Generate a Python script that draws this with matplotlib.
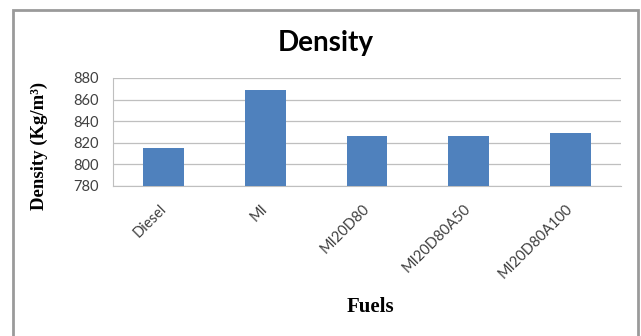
import matplotlib
matplotlib.use("Agg")
import matplotlib.pyplot as plt
from matplotlib.patches import Rectangle

fuels = ["Diesel", "MI", "MI20D80", "MI20D80A50", "MI20D80A100"]
density = [815, 869, 826, 826, 829]
y_ticks = [780, 800, 820, 840, 860, 880]

fig = plt.figure(figsize=(6.41, 3.36), dpi=100)
fig.patch.set_facecolor("white")

# grey border round the chart area (bottom edge falls off the image)
fig.patches.append(Rectangle((13 / 641, -0.05), 625 / 641, 1.05 - 10 / 336,
                             transform=fig.transFigure, fill=False,
                             edgecolor="#9a9a9a", linewidth=2))

ax = fig.add_axes([113 / 641, 150 / 336, 508 / 641, 108 / 336])
x = range(len(fuels))
ax.bar(x, density, width=0.4, color="#4F81BD", zorder=3)

ax.set_xlim(-0.5, len(fuels) - 0.5)
ax.set_ylim(780, 880)
ax.set_yticks(y_ticks)
ax.set_yticklabels([str(v) for v in y_ticks], fontsize=10.5, color="#404040",
                   family="Lato")
ax.set_xticks(list(x))
ax.set_xticklabels(fuels, rotation=45, ha="right", va="center",
                   rotation_mode="anchor", fontsize=10.5, color="#404040",
                   family="Lato")
ax.tick_params(axis="x", length=0, pad=15)
ax.tick_params(axis="y", length=0, pad=10)

ax.grid(axis="y", color="#bfbfbf", linewidth=0.9, zorder=0)
for s in ["top", "right"]:
    ax.spines[s].set_visible(False)
ax.spines["left"].set_color("#bfbfbf")
ax.spines["bottom"].set_color("#bfbfbf")

fig.text(326 / 641, 1 - 43 / 336, "Density", ha="center", va="center",
         fontsize=20, fontweight="bold", family="Lato")
fig.text(370 / 641, 1 - 307 / 336, "Fuels", ha="center", va="center",
         fontsize=15, fontweight="bold", family="Liberation Serif")
fig.text(39 / 641, 1 - 146 / 336, "Density (Kg/m³)", ha="center",
         va="center", rotation=90, fontsize=13.5, fontweight="bold",
         family="Liberation Serif")

fig.savefig("out.png", dpi=100)
